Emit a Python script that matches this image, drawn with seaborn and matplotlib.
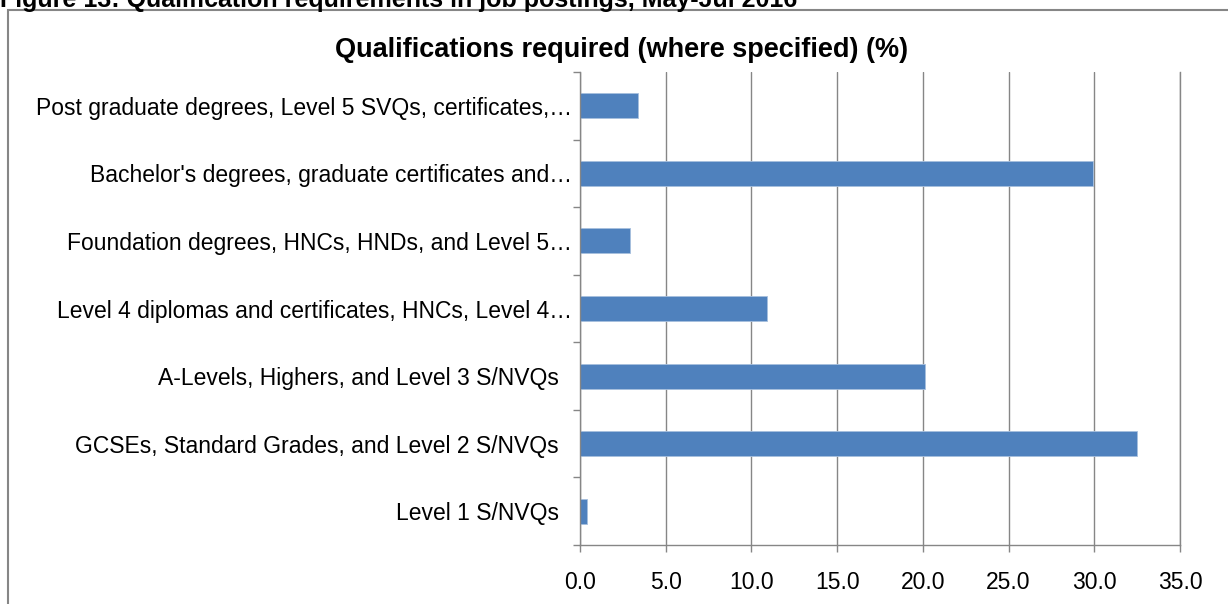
import matplotlib
matplotlib.use("Agg")
import matplotlib.pyplot as plt
import seaborn as sns
import pandas as pd
from matplotlib.patches import Rectangle

# Datos (de arriba hacia abajo, como en el gráfico)
categorias = [
    "Post graduate degrees, Level 5 SVQs, certificates,…",
    "Bachelor's degrees, graduate certificates and…",
    "Foundation degrees, HNCs, HNDs, and Level 5…",
    "Level 4 diplomas and certificates, HNCs, Level 4…",
    "A-Levels, Highers, and Level 3 S/NVQs  ",
    "GCSEs, Standard Grades, and Level 2 S/NVQs  ",
    "Level 1 S/NVQs  ",
]
porcentajes = [3.4, 29.9, 2.9, 10.9, 20.1, 32.5, 0.4]
ticks_x = [0, 5, 10, 15, 20, 25, 30, 35]

df = pd.DataFrame({"categoria": categorias, "pct": porcentajes})

sns.set_style("white")
plt.rcParams["font.family"] = ["Liberation Sans", "DejaVu Sans"]
plt.rcParams["text.color"] = "black"
plt.rcParams["xtick.color"] = "#868686"
plt.rcParams["ytick.color"] = "#868686"
plt.rcParams["xtick.labelcolor"] = "black"
plt.rcParams["ytick.labelcolor"] = "black"

W, H = 1228, 604
fig = plt.figure(figsize=(W / 100, H / 100), dpi=100)
ax = fig.add_axes([580 / W, 1 - 545 / H, 600 / W, 473 / H])

sns.barplot(data=df, y="categoria", x="pct", orient="h", color="#4F81BD",
            saturation=1, width=0.37, edgecolor="#A7BFDE", linewidth=0.6, ax=ax)

ax.set_xlim(0, 35)
ax.set_ylim(6.5, -0.5)
ax.set_xticks(ticks_x)
ax.set_xticklabels([f"{t:.1f}" for t in ticks_x], fontsize=16.5)
ax.tick_params(axis="x", bottom=True, length=5, width=1, pad=14)
ax.tick_params(axis="y", which="major", left=True, length=0, labelsize=16.5, pad=6)
ax.set_yticks([i - 0.5 for i in range(8)], minor=True)
ax.tick_params(axis="y", which="minor", left=True, length=5, width=1)
ax.set_xlabel("")
ax.set_ylabel("")
ax.grid(axis="x", color="#868686", linewidth=1)
ax.set_axisbelow(True)
ax.spines["top"].set_visible(False)
for lado in ["left", "bottom", "right"]:
    ax.spines[lado].set_color("#868686")
    ax.spines[lado].set_linewidth(1)

# Título del gráfico
fig.text(622 / W, 1 - 50 / H, "Qualifications required (where specified) (%)",
         ha="center", va="center", fontsize=19.5, fontweight="bold")

# Marco exterior del gráfico
fig.add_artist(Rectangle((8 / W, -0.1), 1.2, 1 - 10 / H + 0.1,
                         transform=fig.transFigure, fill=False,
                         edgecolor="#868686", linewidth=1.5))

# Pie de figura cortado en la parte superior
fig.text(0, 1 - 6.5 / H,
         "Figure 13: Qualification requirements in job postings, May-Jul 2016",
         ha="left", va="baseline", fontsize=18, fontweight="bold")

plt.savefig("out.png", dpi=100)
